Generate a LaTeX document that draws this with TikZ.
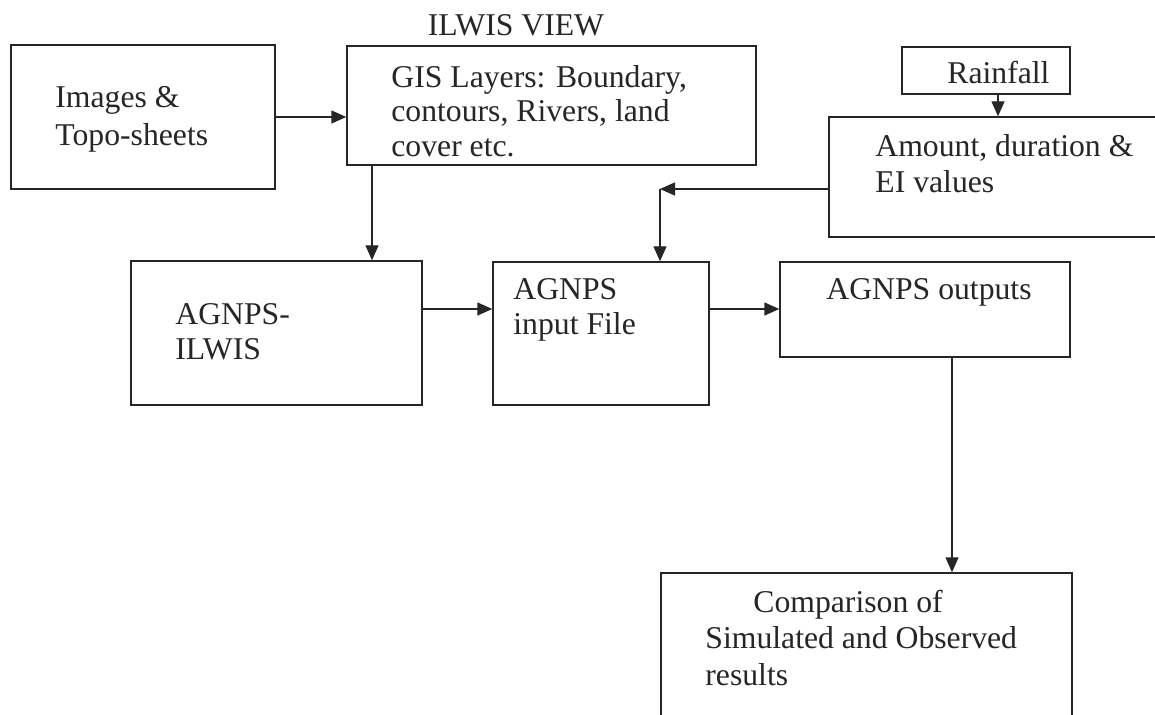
\documentclass[tikz,border=0pt]{standalone}
\usepackage{fontspec}
\setmainfont{Liberation Serif}
\usetikzlibrary{arrows.meta,fit}
\begin{document}
\begin{tikzpicture}[x=0.5pt,y=-0.5pt,
  box/.style={draw=black!85, line width=0.7pt, inner sep=0pt},
  lbl/.style={anchor=base west, inner sep=0pt, font=\fontsize{15.85}{17}\selectfont, text=black!85},
  arr/.style={draw=black!85, line width=0.7pt, -{Triangle[length=7.5pt,width=6.5pt]}}]
\useasboundingbox (0,0) rectangle (1155,715);
\clip (0,0) rectangle (1155,715);
\fill[white] (0,0) rectangle (1155,715);
% boxes
\node[box, fit={(11,45) (275,189)}] (b1) {};
\node[box, fit={(347,46) (756,165)}] (b2) {};
\node[box, fit={(902,47) (1070,94)}] (b3) {};
\node[box, fit={(829,117) (1175,237)}] (b4) {};
\node[box, fit={(131,261) (422,405)}] (b5) {};
\node[box, fit={(493,262) (709,405)}] (b6) {};
\node[box, fit={(780,262) (1070,357)}] (b7) {};
\node[box, fit={(661,573) (1072,745)}] (b8) {};
% texts
\node[lbl, anchor=base] (tv) at (516,36) {ILWIS VIEW};
\node[lbl] (t1a) at (55,108) {Images \&};
\node[lbl] (t1b) at (55,146) {Topo-sheets};
\node[lbl] (t2a) at (391,88) {GIS Layers: Boundary,};
\node[lbl] (t2b) at (391,122) {contours, Rivers, land};
\node[lbl] (t2c) at (391,157) {cover etc.};
\node[lbl] (t3) at (947,84) {Rainfall};
\node[lbl] (t4a) at (875,157) {Amount, duration \&};
\node[lbl] (t4b) at (875,193) {EI values};
\node[lbl] (t5a) at (175,325) {AGNPS-};
\node[lbl] (t5b) at (175,360) {ILWIS};
\node[lbl] (t6a) at (513,300) {AGNPS};
\node[lbl] (t6b) at (513,335) {input File};
\node[lbl] (t7) at (826,300) {AGNPS outputs};
\node[lbl] (t8a) at (753,612) {Comparison of};
\node[lbl] (t8b) at (705,648) {Simulated and Observed};
\node[lbl] (t8c) at (705,685) {results};
% helper coordinates
\coordinate (gx) at (372,0);
\coordinate (my) at (0,309);
\coordinate (rx) at (998,0);
\coordinate (corner) at (660,189);
\coordinate (ox) at (952,0);
% connectors
\draw[arr] (b1.east) -- (b2.west |- b1.east);
\draw[arr] (b2.south -| gx) -- (b5.north -| gx);
\draw[arr] (b5.east |- my) -- (b6.west |- my);
\draw[arr] (b6.east |- my) -- (b7.west |- my);
\draw[arr] (b3.south -| rx) -- (b4.north -| rx);
\draw[arr] (b4.west |- corner) -- (corner);
\draw[arr] (corner) -- (b6.north -| corner);
\draw[arr] (b7.south -| ox) -- (b8.north -| ox);
\end{tikzpicture}
\end{document}
